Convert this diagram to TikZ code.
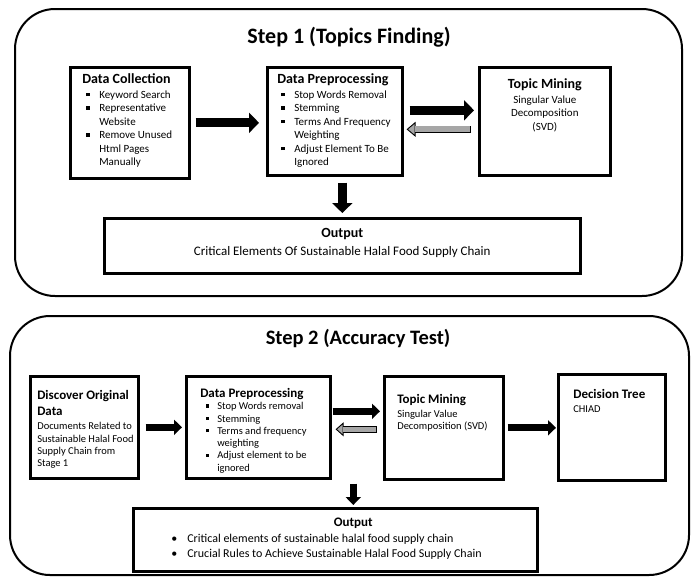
\documentclass[tikz,border=0pt]{standalone}
\usepackage{fontspec}
\setmainfont{Carlito}
\usetikzlibrary{
  arrows.meta, % for the Triangle tips of the block arrows
}
% fixed size text block, top aligned
\newcommand{\panel}[3]{\begin{minipage}[t][#2pt][t]{#1pt}\parindent=0pt\parskip=0pt\raggedright #3\end{minipage}}
% bold heading line of a box
\newcommand{\head}[2][14]{{\fontsize{#1}{16}\selectfont\bfseries #2\par}}
% square bullet with hanging indent
\newcommand{\sqitem}[1][4pt]{\par\noindent\hangindent=17pt\hangafter=1\makebox[17pt][l]{\hspace{#1}\rule[0.2em]{0.3em}{0.3em}}\ignorespaces}
\tikzset{
  stage/.style={ % big rounded frame round each step
    draw,line width=2pt, % thin black rim
    rounded corners=40pt, % strongly rounded corners
  },
  heading/.style={ % style for the step titles
    font=\fontsize{22}{26}\selectfont\bfseries,
  },
  box/.style={ % style for each process box
    draw,line width=2.6pt, % heavy black frame
    anchor=north west, % placed by its top left corner
    inner sep=0pt, % padding is set per box
  },
  big/.style={ % text of the step 1 boxes
    box,font=\fontsize{11}{13.5}\selectfont,
  },
  small/.style={ % text of the step 2 boxes
    box,font=\fontsize{10.5}{12.3}\selectfont,
  },
  fat/.style={ % black block arrow, step 1
    line width=9pt,
    -{Triangle[length=10pt,width=20pt]},
  },
  slim/.style={ % black block arrow, step 2
    line width=7pt,
    -{Triangle[length=8pt,width=15pt]},
  },
  ghost/.style n args={2}{ % gray block arrow with black rim, step 1 (#1, #2 = gaps)
    line width=7.5pt,shorten <=#1,shorten >=#2,
    -{Triangle[length=9pt,width=15pt,fill=gray!70,line width=0.9pt]},
    postaction={draw=gray!70,line width=5.7pt,-,shorten <=#1+0.9pt,shorten >=#2+8pt},
  },
  ghost small/.style n args={2}{ % same, step 2
    line width=6.5pt,shorten <=#1,shorten >=#2,
    -{Triangle[length=8pt,width=14pt,fill=gray!70,line width=0.9pt]},
    postaction={draw=gray!70,line width=4.7pt,-,shorten <=#1+0.9pt,shorten >=#2+7pt},
  },
}
\begin{document}
\begin{tikzpicture}[x=1pt,y=-1pt]
	\useasboundingbox (0,0) rectangle (692,576);
	
	% Step 1
	\draw[stage] (15,9) rectangle (682,296);
	\node[heading] (title1) at (349,37) {Step 1 (Topics Finding)};
	
	\node[big,inner xsep=12pt,inner ysep=6.5pt] (dc) at (69,66) {\panel{95}{98}{%
		\head{Data Collection}\vspace{1.3pt}
		\sqitem Keyword Search
		\sqitem Representative\newline Website
		\sqitem Remove Unused\newline Html Pages\newline Manually}};
	
	\node[big,inner xsep=10pt,inner ysep=6.5pt] (dp) at (266,66) {\panel{115}{95}{%
		\head{Data Preprocessing}\vspace{1.3pt}
		\sqitem Stop Words Removal
		\sqitem Stemming
		\sqitem Terms And Frequency\newline Weighting
		\sqitem Adjust Element To Be\newline Ignored}};
	
	\node[big,inner xsep=10pt,inner ysep=11.7pt] (tm) at (478,66) {\panel{111}{84.6}{\centering
		\head{Topic Mining}\vspace{1pt}
		Singular Value\\ Decomposition\\ (SVD)}};
	
	\node[big,inner xsep=10pt,inner ysep=10.3pt] (out1) at (103,217) {\panel{456}{34.4}{\centering
		\head{Output}
		{\fontsize{13}{17.5}\selectfont Critical Elements Of Sustainable Halal Food Supply Chain\par}}};
	
	\coordinate (fwd1) at ([yshift=11pt]dp.east);
	\coordinate (back1) at ([yshift=-8pt]dp.east);
	\draw[fat,shorten <=5pt,shorten >=7pt] (dc.east) -- (dc.east -| dp.west);
	\draw[fat,shorten <=6pt,shorten >=4pt] (fwd1) -- (fwd1 -| tm.west);
	\draw[ghost={7pt}{3pt}] (back1 -| tm.west) -- (back1);
	\draw[fat,shorten <=6pt,shorten >=4pt] (dp.south -| out1.north) -- (out1.north);
	
	% Step 2
	\draw[stage] (10,316) rectangle (689,575);
	\node[heading,font=\fontsize{20.5}{24}\selectfont\bfseries] (title2) at (358,338) {Step 2 (Accuracy Test)};
	
	\node[small,inner xsep=7pt,inner ysep=14.1pt] (disc) at (29,375) {\panel{94}{73.8}{%
		\head[13]{Discover Original\newline Data}\vspace{2pt}
		\mbox{Documents Related to}\newline \mbox{Sustainable Halal Food}\newline \mbox{Supply Chain from}\newline Stage 1}};
	
	\node[small,inner xsep=14pt,inner ysep=12pt] (dp2) at (185,375) {\panel{116}{78}{%
		\head[13]{Data Preprocessing}
		\sqitem[6pt] Stop Words removal
		\sqitem[6pt] Stemming
		\sqitem[6pt] Terms and frequency\newline weighting
		\sqitem[6pt] Adjust element to be\newline ignored}};
	
	\node[small,inner xsep=13pt,inner ysep=17.6pt] (tm2) at (383,375) {\panel{93}{67.8}{%
		\head[13]{Topic Mining}\vspace{2pt}
		Singular Value\newline \mbox{Decomposition (SVD)}}};
	
	\node[small,inner xsep=15pt,inner ysep=15.4pt] (dt) at (557,373) {\panel{77}{75.2}{%
		\head[13]{Decision Tree}\vspace{1pt}
		CHIAD}};
	
	\node[small,inner xsep=5pt,inner ysep=9.6pt] (out2) at (132,507) {\panel{394}{43.8}{%
		{\fontsize{13}{16}\selectfont\bfseries\hspace*{36pt}\makebox[\dimexpr\linewidth-36pt\relax][c]{Output}\par}
		\vspace{0.6pt}
		\fontsize{12}{15}\selectfont
		\hspace*{33pt}\makebox[16pt][l]{\textbullet}Critical elements of sustainable halal food supply chain\par
		\hspace*{33pt}\makebox[16pt][l]{\textbullet}Crucial Rules to Achieve Sustainable Halal Food Supply Chain}};
	
	\coordinate (fwd2) at ([yshift=16pt]dp2.east);
	\coordinate (back2) at ([yshift=-2pt]dp2.east);
	\coordinate (drop2) at ([xshift=18pt]out2.north);
	\draw[slim,shorten <=6pt,shorten >=3pt] (disc.east) -- (disc.east -| dp2.west);
	\draw[slim,shorten <=1pt,shorten >=3pt] (fwd2) -- (fwd2 -| tm2.west);
	\draw[ghost small={6pt}{4pt}] (back2 -| tm2.west) -- (back2);
	\draw[slim,shorten <=3pt,shorten >=1pt] (tm2.east) -- (tm2.east -| dt.west);
	\draw[slim,shorten <=4pt,shorten >=2pt] (drop2 |- dp2.south) -- (drop2);
\end{tikzpicture}
\end{document}
